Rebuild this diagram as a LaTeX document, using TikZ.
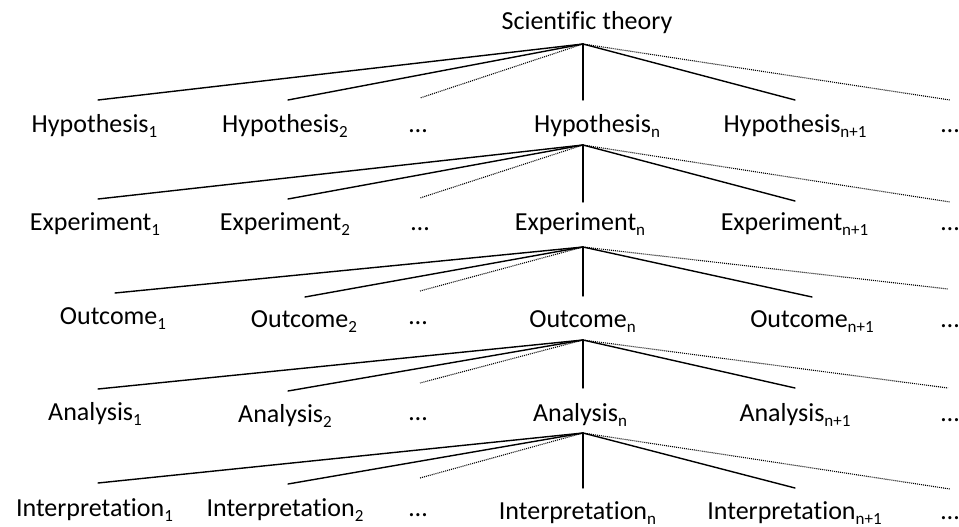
\documentclass[tikz,border=0pt]{standalone}
\usepackage{fontspec}
\setmainfont{Carlito}[Ligatures=CommonOff]
\newcommand{\sub}[1]{\raisebox{-5pt}{\fontsize{17}{17}\selectfont #1}}
\tikzset{
  lbl/.style={anchor=base, inner sep=0pt, font=\fontsize{26}{30}\selectfont},
  branch/.style={line width=1.4pt, line cap=round},
  more/.style={line width=1.1pt, dash pattern=on 1pt off 1pt},
}
\newcommand{\fanlines}[7]{%
  \draw[branch] (#1) -- (#2);
  \draw[branch] (#1) -- (#3);
  \draw[more]   (#1) -- (#4);
  \draw[branch] (#1) -- (#5);
  \draw[branch] (#1) -- (#6);
  \draw[more]   (#1) -- (#7);
}
\begin{document}
\begin{tikzpicture}[x=1pt,y=-1pt]
\useasboundingbox (0,0) rectangle (959,527);

% texts
\node[lbl] (theory) at (587,30) {Scientific theory};

\node[lbl] (h1) at (94.5,132) {Hypothesis\sub{1}};
\node[lbl] (h2) at (285,132) {Hypothesis\sub{2}};
\node[lbl] (hd) at (418,132) {…};
\node[lbl] (hn) at (597,132) {Hypothesis\sub{n}};
\node[lbl] (hn1) at (795,132) {Hypothesis\sub{n+1}};
\node[lbl] (hd2) at (950,132) {…};

\node[lbl] (e1) at (95,230) {Experiment\sub{1}};
\node[lbl] (e2) at (285,230) {Experiment\sub{2}};
\node[lbl] (ed) at (420,230) {…};
\node[lbl] (en) at (580,230) {Experiment\sub{n}};
\node[lbl] (en1) at (794.5,230) {Experiment\sub{n+1}};
\node[lbl] (ed2) at (950,230) {…};

\node[lbl] (o1) at (113,324) {Outcome\sub{1}};
\node[lbl] (o2) at (304,327) {Outcome\sub{2}};
\node[lbl] (od) at (418,324) {…};
\node[lbl] (on) at (582.5,327) {Outcome\sub{n}};
\node[lbl] (on1) at (812,327) {Outcome\sub{n+1}};
\node[lbl] (od2) at (950,327) {…};

\node[lbl] (a1) at (95,420) {Analysis\sub{1}};
\node[lbl] (a2) at (285,422) {Analysis\sub{2}};
\node[lbl] (ad) at (418,420) {…};
\node[lbl] (an) at (580,421) {Analysis\sub{n}};
\node[lbl] (an1) at (795,421) {Analysis\sub{n+1}};
\node[lbl] (ad2) at (950,421) {…};

\node[lbl] (i1) at (94.5,516) {Interpretation\sub{1}};
\node[lbl] (i2) at (285,516) {Interpretation\sub{2}};
\node[lbl] (id) at (418,516) {…};
\node[lbl] (in) at (577.5,519) {Interpretation\sub{n}};
\node[lbl] (in1) at (794.5,519) {Interpretation\sub{n+1}};
\node[lbl] (id2) at (950,519) {…};

% apex points
\coordinate (p0) at (583,44);
\coordinate (p1) at (583,145);
\coordinate (p2) at (583,247);
\coordinate (p3) at (583,340);
\coordinate (p4) at (583,433);

% line ends, level 1
\coordinate (t1a) at (98,100);  \coordinate (t1b) at (288,100);
\coordinate (t1c) at (420,98);  \coordinate (t1d) at (583,100);
\coordinate (t1e) at (795,100); \coordinate (t1f) at (950,100);
% level 2
\coordinate (t2a) at (98,199);  \coordinate (t2b) at (288,199);
\coordinate (t2c) at (420,198); \coordinate (t2d) at (583,202);
\coordinate (t2e) at (795,201); \coordinate (t2f) at (950,202);
% level 3
\coordinate (t3a) at (115,293); \coordinate (t3b) at (305,297);
\coordinate (t3c) at (420,291); \coordinate (t3d) at (583,296);
\coordinate (t3e) at (812,297); \coordinate (t3f) at (948,289);
% level 4
\coordinate (t4a) at (98,389);  \coordinate (t4b) at (288,391);
\coordinate (t4c) at (420,383); \coordinate (t4d) at (583,388);
\coordinate (t4e) at (795,388); \coordinate (t4f) at (948,388);
% level 5
\coordinate (t5a) at (98,483);  \coordinate (t5b) at (288,484);
\coordinate (t5c) at (420,478); \coordinate (t5d) at (583,488);
\coordinate (t5e) at (795,488); \coordinate (t5f) at (950,489);

\fanlines{p0}{t1a}{t1b}{t1c}{t1d}{t1e}{t1f}
\fanlines{p1}{t2a}{t2b}{t2c}{t2d}{t2e}{t2f}
\fanlines{p2}{t3a}{t3b}{t3c}{t3d}{t3e}{t3f}
\fanlines{p3}{t4a}{t4b}{t4c}{t4d}{t4e}{t4f}
\fanlines{p4}{t5a}{t5b}{t5c}{t5d}{t5e}{t5f}
\end{tikzpicture}
\end{document}
